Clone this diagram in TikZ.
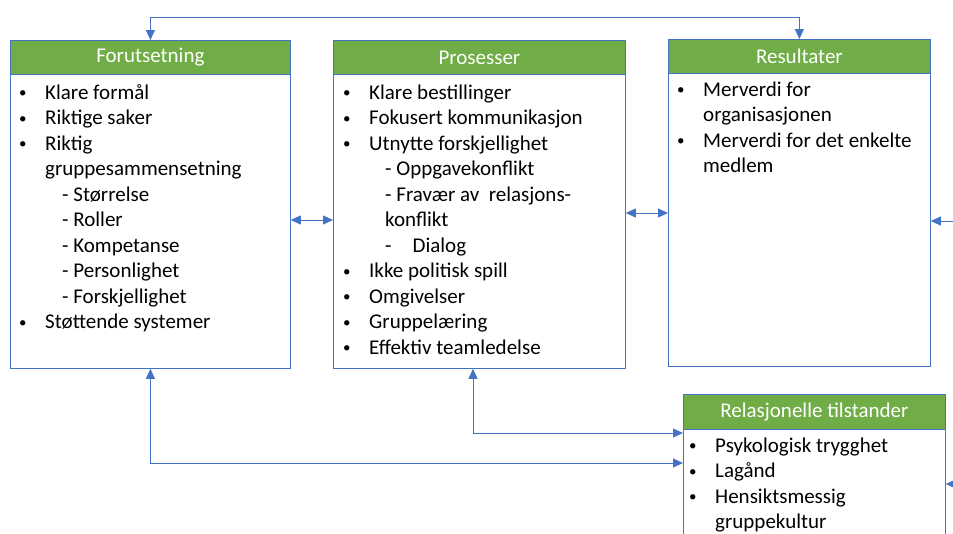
\documentclass[tikz,border=0pt]{standalone}
\usepackage{fontspec}
\setmainfont{Carlito}
\usetikzlibrary{arrows.meta}
\definecolor{hgreen}{HTML}{70AD47}
\definecolor{lblue}{HTML}{4472C4}
\newcommand{\bul}{\makebox[27pt][l]{\hspace{1pt}\raisebox{1.5pt}{\fontsize{15}{15}\selectfont •}}}
\newcommand{\ind}[1]{\hspace*{#1pt}}
\begin{document}
\begin{tikzpicture}[x=1pt,y=-1pt,
  frame/.style={draw=lblue, line width=0.8pt, inner sep=0pt, anchor=north west, fill=white},
  hdr/.style={fill=hgreen, draw=lblue, line width=0.8pt, text=white, inner sep=0pt,
    anchor=north west, minimum height=34pt, font=\fontsize{21}{25.5}\selectfont},
  body/.style={anchor=north west, align=left, inner sep=0pt, font=\fontsize{21}{25.5}\selectfont},
  conn/.style={draw=lblue, line width=0.8pt, {Triangle[length=10pt,width=9pt]}-{Triangle[length=10pt,width=9pt]}},
  oneway/.style={draw=lblue, line width=0.8pt, -{Triangle[length=10pt,width=9pt]}}]
\useasboundingbox (0,0) rectangle (953,533);
\clip (0,0) rectangle (953,533);

% frames
\node[frame, minimum width=280pt, minimum height=328pt] (f) at (10,40) {};
\node[frame, minimum width=292pt, minimum height=328pt] (p) at (333,40) {};
\node[frame, minimum width=262pt, minimum height=327pt] (r) at (668,39) {};
\node[frame, minimum width=262pt, minimum height=160pt] (rel) at (683,394) {};

% headers
\node[hdr, minimum width=280pt] (fh) at (10,40) {Forutsetning};
\node[hdr, minimum width=292pt] (ph) at (333,40) {Prosesser};
\node[hdr, minimum width=262pt] (rh) at (668,39) {Resultater};
\node[hdr, minimum width=262pt, minimum height=35pt] (relh) at (683,394) {Relasjonelle tilstander};

% bodies
\node[body] (fb) at (18,81.2) {\strut\bul Klare formål\\
\bul Riktige saker\\
\bul Riktig\\
\ind{27}gruppesammensetning\\
\ind{44}- Størrelse\\
\ind{44}- Roller\\
\ind{44}- Kompetanse\\
\ind{44}- Personlighet\\
\ind{44}- Forskjellighet\\
\bul Støttende systemer};

\node[body] (pb) at (342,81.2) {\strut\bul Klare bestillinger\\
\bul Fokusert kommunikasjon\\
\bul Utnytte forskjellighet\\
\ind{43}- Oppgavekonflikt\\
\ind{43}- Fravær av\ \ relasjons-\\
\ind{43}konflikt\\
\ind{43}-\hspace{21pt}Dialog\\
\bul Ikke politisk spill\\
\bul Omgivelser\\
\bul Gruppelæring\\
\bul Effektiv teamledelse};

\node[body] (rb) at (676,78.2) {\strut\bul Merverdi for\\
\ind{27}organisasjonen\\
\bul Merverdi for det enkelte\\
\ind{27}medlem};

\node[body] (relb) at (688,434.2) {\strut\bul Psykologisk trygghet\\
\bul Lagånd\\
\bul Hensiktsmessig\\
\ind{27}gruppekultur};

% helper coordinates
\coordinate (ytop) at (0,17);
\coordinate (y1) at (0,220);
\coordinate (y2) at (0,213);
\coordinate (re) at (953,221);
\coordinate (y463) at (0,463);
\coordinate (y433) at (0,433);
\coordinate (pbx) at (473,0);
\coordinate (rele) at (953,484);

% connectors
\draw[conn] (f.north) -- (f.north |- ytop) -| (r.north);
\draw[conn] (f.east |- y1) -- (p.west |- y1);
\draw[conn] (p.east |- y2) -- (r.west |- y2);
\draw[oneway] (re) -- (r.east |- re);
\draw[conn] (f.south) -- (f.south |- y463) -- (rel.west |- y463);
\draw[conn] (p.south -| pbx) -- (pbx |- y433) -- (rel.west |- y433);
\draw[oneway] (rele) -- (rel.east |- rele);
\end{tikzpicture}
\end{document}
